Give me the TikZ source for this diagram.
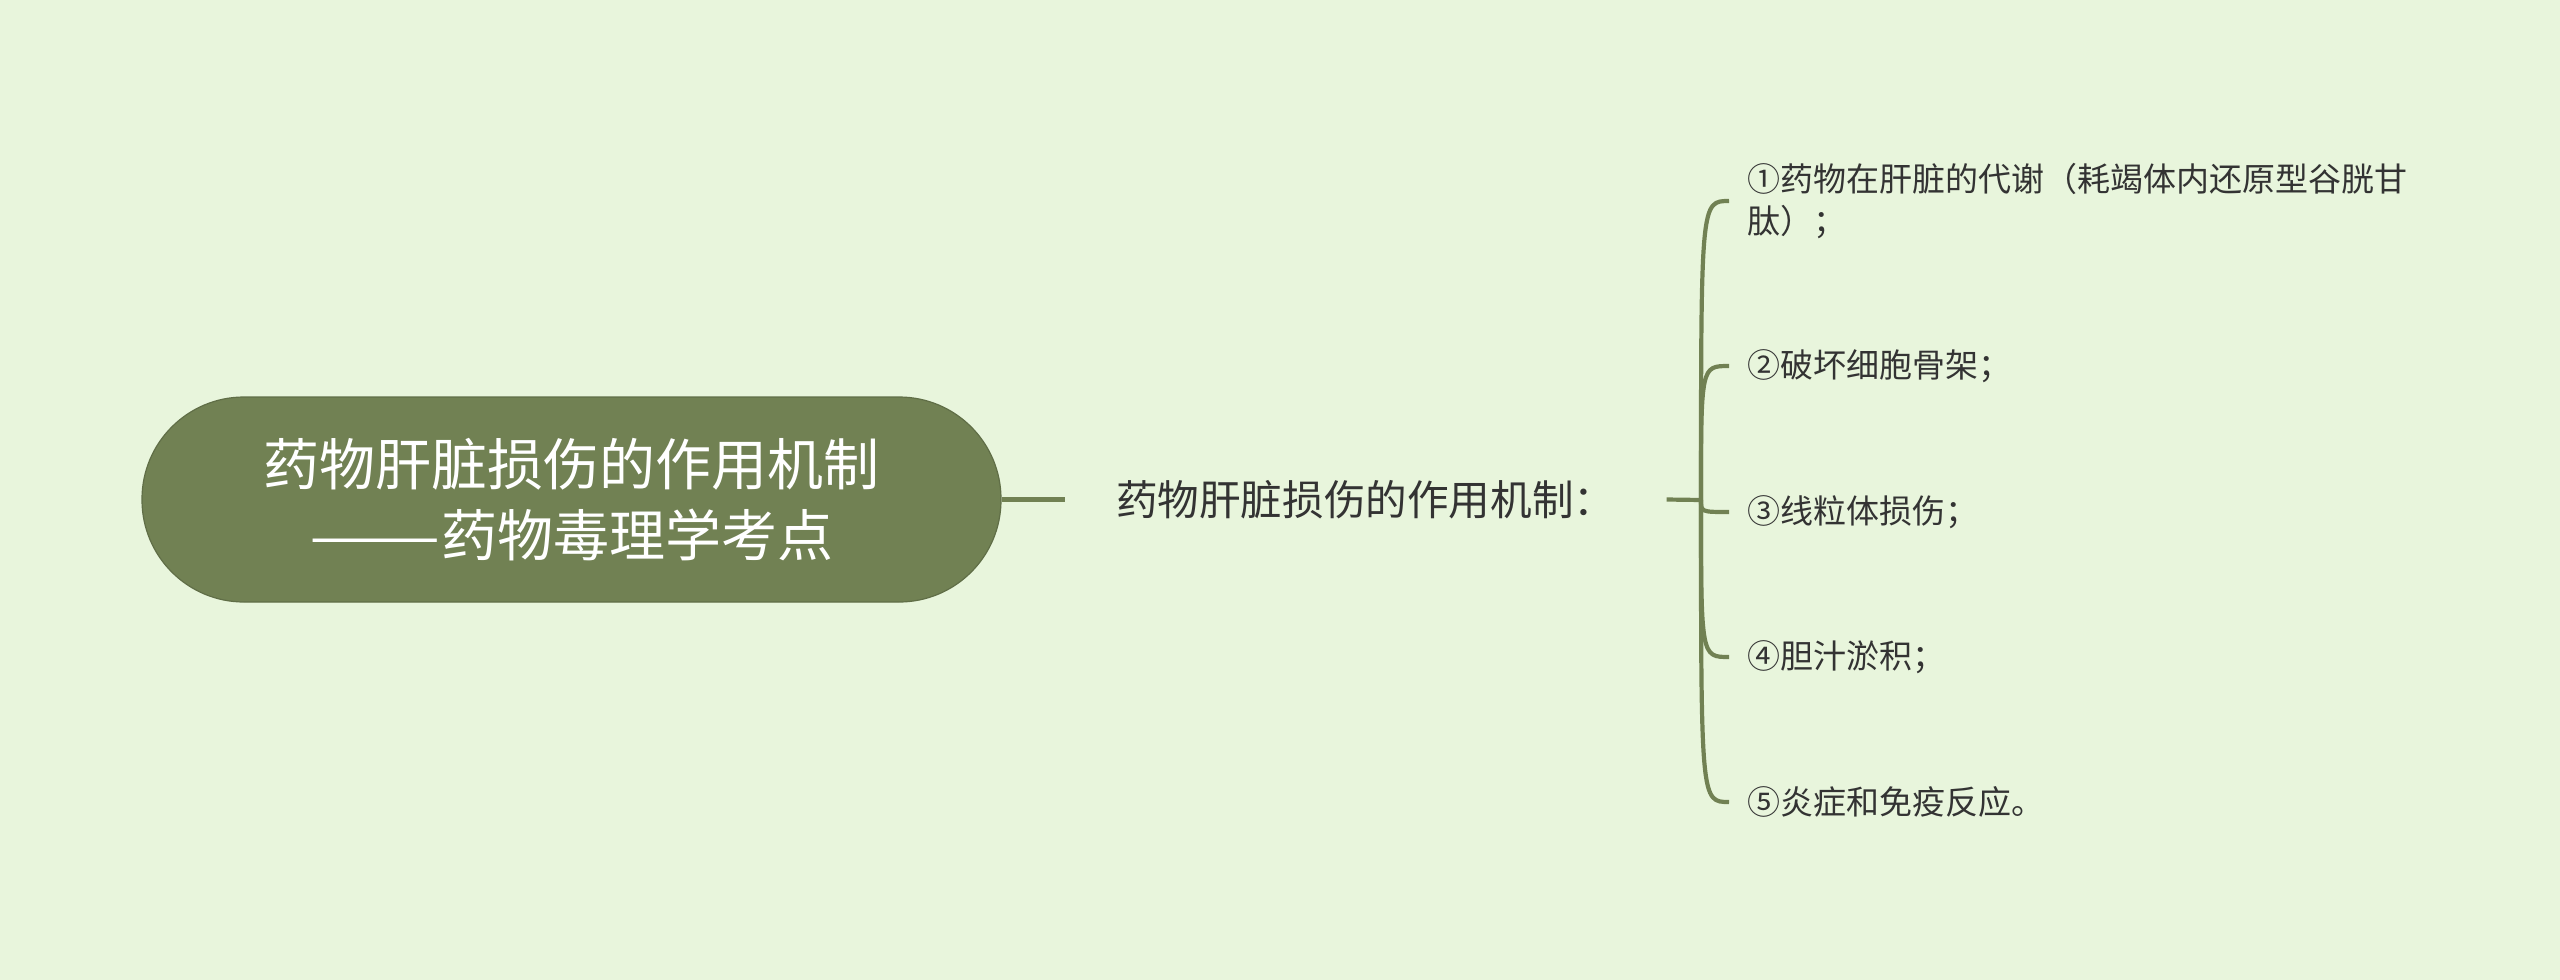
\documentclass[tikz,border=0pt]{standalone}
\usepackage{fontspec}
\usepackage{graphicx}
\setmainfont{Noto Sans CJK SC}
\usetikzlibrary{positioning}
\definecolor{bgcol}{HTML}{E8F5DC}
\definecolor{olive}{HTML}{718153}
\definecolor{inkgrey}{HTML}{333333}

\begin{document}
\begin{tikzpicture}[
  x=0.5pt, y=-0.5pt,
  rootnode/.style={rectangle, rounded corners=51pt, fill=olive,
                   draw=olive!85!black, line width=0.6pt,
                   minimum width=429.5pt, minimum height=102.5pt,
                   align=center, text=white,
                   font=\fontsize{28}{35.5}\selectfont},
  subnode/.style={inner xsep=25.5pt, inner ysep=8pt, text=inkgrey,
                  font=\fontsize{20.8}{25}\selectfont},
  leaf/.style={anchor=west, inner xsep=9pt, inner ysep=4pt,
               align=left, text=inkgrey,
               font=\fontsize{16.5}{21}\selectfont},
  branch/.style={draw=olive, line width=2.1pt}
]
\fill[bgcol] (0,0) rectangle (2560,980);
\useasboundingbox (0,0) rectangle (2560,980);

\node[rootnode] (root) at (571.5,499.5) {药物肝脏损伤的作用机制\\\scalebox{1.4}[1]{——}药物毒理学考点};
\node[subnode, right=31.5pt of root] (sub) {药物肝脏损伤的作用机制：};

\coordinate (hub) at (1701,500);

\node[leaf] (l1) at (1729,201) {①药物在肝脏的代谢（耗竭体内还原型谷胱甘\\肽）；};
\node[leaf] (l2) at (1729,366) {②破坏细胞骨架；};
\node[leaf] (l3) at (1729,512) {③线粒体损伤；};
\node[leaf] (l4) at (1729,657) {④胆汁淤积；};
\node[leaf] (l5) at (1729,802) {⑤炎症和免疫反应。};

% connectors
\draw[branch] (root.east) -- (sub.west);
\draw[branch] (sub.east) -- (hub);
\foreach \n in {l1,l2,l3,l4,l5}
  \draw[branch] (hub) .. controls (hub |- \n.west) .. (\n.west);
\end{tikzpicture}
\end{document}
